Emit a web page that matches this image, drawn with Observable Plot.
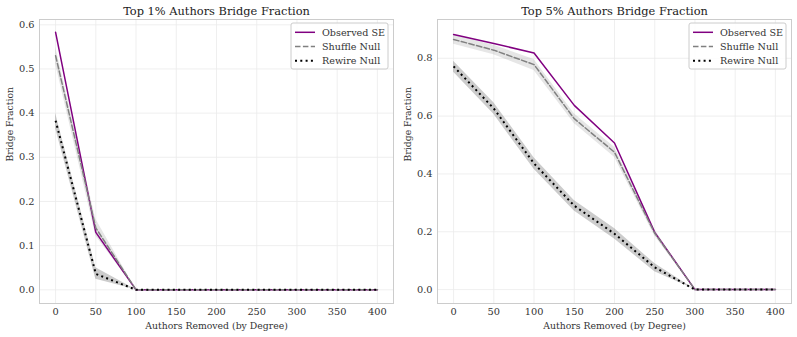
<!DOCTYPE html>
<html>
<head>
<meta charset="utf-8">
<script src="https://cdn.jsdelivr.net/npm/d3@7"></script>
<script src="https://cdn.jsdelivr.net/npm/@observablehq/plot@0.6"></script>
<style>
  html, body { margin: 0; padding: 0; background: white; }
  #wrap { display: flex; width: 797px; height: 337px; }
  svg { display: block; }
</style>
</head>
<body>
<div id="wrap"></div>
<script>
// ---- data ----
const removed = [0, 50, 100, 150, 200, 250, 300, 350, 400];
const xTicks = [0, 50, 100, 150, 200, 250, 300, 350, 400];

const top1Observed  = [0.583, 0.130, 0, 0, 0, 0, 0, 0, 0];
const top1Shuffle   = [0.530, 0.140, 0, 0, 0, 0, 0, 0, 0];
const top1ShuffleLo = [0.512, 0.122, 0, 0, 0, 0, 0, 0, 0];
const top1ShuffleHi = [0.550, 0.160, 0, 0, 0, 0, 0, 0, 0];
const top1Rewire    = [0.383, 0.036, 0, 0, 0, 0, 0, 0, 0];
const top1RewireLo  = [0.365, 0.024, 0, 0, 0, 0, 0, 0, 0];
const top1RewireHi  = [0.400, 0.050, 0, 0, 0, 0, 0, 0, 0];
const top1YTicks = [0, 0.1, 0.2, 0.3, 0.4, 0.5, 0.6];

const top5Observed  = [0.882, 0.851, 0.818, 0.637, 0.507, 0.198, 0, 0, 0];
const top5Shuffle   = [0.865, 0.828, 0.778, 0.591, 0.475, 0.195, 0, 0, 0];
const top5ShuffleLo = [0.848, 0.812, 0.758, 0.574, 0.458, 0.185, 0, 0, 0];
const top5ShuffleHi = [0.880, 0.845, 0.796, 0.608, 0.492, 0.207, 0, 0, 0];
const top5Rewire    = [0.772, 0.626, 0.436, 0.290, 0.193, 0.077, 0, 0, 0];
const top5RewireLo  = [0.752, 0.606, 0.416, 0.272, 0.175, 0.062, 0, 0, 0];
const top5RewireHi  = [0.790, 0.646, 0.456, 0.308, 0.211, 0.090, 0, 0, 0];
const top5YTicks = [0, 0.2, 0.4, 0.6, 0.8];

const seriesNames = ["Observed SE", "Shuffle Null", "Rewire Null"];

// ---- styles ----
const FONT = "DejaVu Serif";
const styles = [
  {stroke: "purple", strokeWidth: 1.5, dash: null},
  {stroke: "gray", strokeWidth: 1.5, dash: "5.5,2.4"},
  {stroke: "black", strokeWidth: 2, dash: "2,3.3"}
];

function panel({title, obs, sh, shLo, shHi, rw, rwLo, rwHi, yDomain, yTicks, width, marginRight}) {
  const rows = removed.map((x, i) => ({
    x, obs: obs[i], sh: sh[i], shLo: shLo[i], shHi: shHi[i], rw: rw[i], rwLo: rwLo[i], rwHi: rwHi[i]
  }));
  const svg = Plot.plot({
    width, height: 337,
    marginLeft: 39, marginRight, marginTop: 19, marginBottom: 34,
    style: {fontFamily: FONT, fontSize: "9.8px", color: "#333", background: "white", overflow: "visible"},
    x: {domain: [-20, 420], ticks: xTicks, tickSize: 0, tickPadding: 5, label: null},
    y: {domain: yDomain, ticks: yTicks, tickFormat: ".1f", tickSize: 0, tickPadding: 5, label: null},
    marks: [
      Plot.ruleX(xTicks, {stroke: "#ebebeb", strokeWidth: 0.8}),
      Plot.ruleY(yTicks, {stroke: "#ebebeb", strokeWidth: 0.8}),
      Plot.frame({stroke: "#cccccc", strokeWidth: 1}),
      Plot.areaY(rows, {x: "x", y1: "shLo", y2: "shHi", fill: "gray", fillOpacity: 0.2}),
      Plot.areaY(rows, {x: "x", y1: "rwLo", y2: "rwHi", fill: "black", fillOpacity: 0.2}),
      Plot.line(rows, {x: "x", y: "obs", stroke: styles[0].stroke, strokeWidth: styles[0].strokeWidth}),
      Plot.line(rows, {x: "x", y: "sh", stroke: styles[1].stroke, strokeWidth: styles[1].strokeWidth, strokeDasharray: styles[1].dash}),
      Plot.line(rows, {x: "x", y: "rw", stroke: styles[2].stroke, strokeWidth: styles[2].strokeWidth, strokeDasharray: styles[2].dash, strokeLinecap: "butt"}),
      Plot.text([title], {frameAnchor: "top", dy: -8, lineAnchor: "middle", fontSize: 11.4, fill: "#222"}),
      Plot.text(["Authors Removed (by Degree)"], {frameAnchor: "bottom", dy: 22.7, lineAnchor: "middle", fontSize: 9.3, fill: "#333"}),
      Plot.text(["Bridge Fraction"], {frameAnchor: "left", dx: -29, rotate: -90, lineAnchor: "middle", fontSize: 9.3, fill: "#333"})
    ]
  });
  // legend
  const g = d3.select(svg).append("g").attr("font-family", FONT).attr("font-size", 9.6)
    .attr("text-anchor", "start");
  g.append("rect").attr("x", 291).attr("y", 23).attr("width", 97).attr("height", 46)
    .attr("rx", 2).attr("fill", "white").attr("fill-opacity", 0.85).attr("stroke", "#cccccc");
  const rowsY = [32.3, 46.6, 60.7];
  seriesNames.forEach((name, i) => {
    const s = styles[i];
    g.append("line").attr("x1", 295).attr("x2", 315).attr("y1", rowsY[i]).attr("y2", rowsY[i])
      .attr("stroke", s.stroke).attr("stroke-width", s.strokeWidth)
      .attr("stroke-dasharray", s.dash);
    g.append("text").attr("x", 322).attr("y", rowsY[i]).attr("dy", "0.35em")
      .attr("text-anchor", "start").attr("fill", "#333").text(name);
  });
  return svg;
}

const wrap = document.getElementById("wrap");
wrap.appendChild(panel({
  title: "Top 1% Authors Bridge Fraction",
  obs: top1Observed, sh: top1Shuffle, shLo: top1ShuffleLo, shHi: top1ShuffleHi,
  rw: top1Rewire, rwLo: top1RewireLo, rwHi: top1RewireHi,
  yDomain: [-0.031, 0.612], yTicks: top1YTicks, width: 398, marginRight: 5
}));
wrap.appendChild(panel({
  title: "Top 5% Authors Bridge Fraction",
  obs: top5Observed, sh: top5Shuffle, shLo: top5ShuffleLo, shHi: top5ShuffleHi,
  rw: top5Rewire, rwLo: top5RewireLo, rwHi: top5RewireHi,
  yDomain: [-0.048, 0.934], yTicks: top5YTicks, width: 399, marginRight: 6
}));
</script>
</body>
</html>
